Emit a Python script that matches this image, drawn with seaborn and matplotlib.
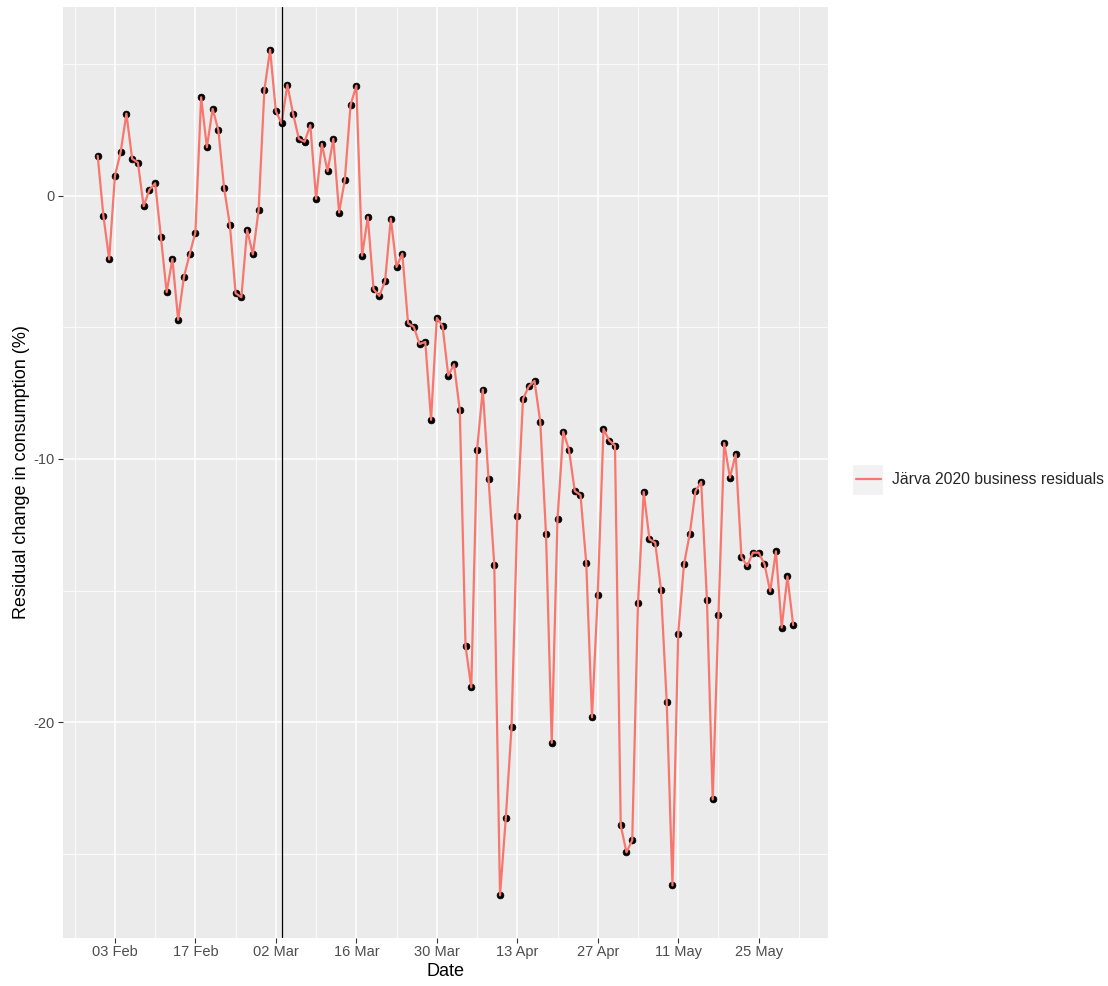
import matplotlib
matplotlib.use("Agg")
import matplotlib.pyplot as plt
import matplotlib.dates as mdates
from matplotlib.patches import Rectangle
import pandas as pd
import seaborn as sns

# daily residuals, 31 Jan - 31 May 2020
jan = [1.53]
feb = [-0.76, -2.41, 0.76, 1.67, 3.13, 1.41, 1.27, -0.39, 0.23, 0.48,
       -1.55, -3.66, -2.40, -4.71, -3.08, -2.22, -1.39, 3.75, 1.85, 3.31,
       2.50, 0.29, -1.10, -3.70, -3.85, -1.29, -2.22, -0.54, 4.02]
mar = [5.56, 3.22, 2.76, 4.23, 3.12, 2.17, 2.06, 2.69, -0.11, 1.98,
       0.94, 2.17, -0.63, 0.61, 3.46, 4.19, -2.27, -0.80, -3.55, -3.80,
       -3.24, -0.86, -2.70, -2.19, -4.84, -4.98, -5.63, -5.55, -8.51, -4.64,
       -4.94]
apr = [-6.83, -6.40, -8.15, -17.12, -18.68, -9.66, -7.36, -10.75, -14.02, -26.59,
       -23.66, -20.20, -12.18, -7.72, -7.24, -7.03, -8.59, -12.86, -20.79, -12.29,
       -8.96, -9.65, -11.22, -11.37, -13.95, -19.82, -15.16, -8.86, -9.30, -9.49]
may = [-23.93, -24.95, -24.49, -15.49, -11.25, -13.05, -13.18, -14.97, -19.23, -26.21,
       -16.64, -14.01, -12.86, -11.22, -10.87, -15.36, -22.94, -15.93, -9.39, -10.71,
       -9.82, -13.73, -14.07, -13.56, -13.56, -13.99, -15.03, -13.51, -16.41, -14.46,
       -16.31]

start_date = "2020-01-31"
event_date = "2020-03-03"
series_name = "Järva 2020 business residuals"
y_ticks = [0, -10, -20]
y_minor = [5, -5, -15, -25]

values = jan + feb + mar + apr + may
df = pd.DataFrame({
    "Date": pd.date_range(start_date, periods=len(values), freq="D"),
    "resid": values,
})
df["series"] = series_name

sns.set_theme(style="darkgrid")
plt.rcParams["font.family"] = ["Liberation Sans", "DejaVu Sans"]

fig, ax = plt.subplots(figsize=(11.08, 9.86), dpi=100)
fig.subplots_adjust(left=0.0565, right=0.7475, top=0.9925, bottom=0.049)
ax.set_facecolor("#EBEBEB")

sns.scatterplot(data=df, x="Date", y="resid", color="black", s=24,
                edgecolor="black", linewidth=0.5, ax=ax, legend=False, zorder=3)
sns.lineplot(data=df, x="Date", y="resid", hue="series", palette=["#F8766D"],
             linewidth=1.6, ax=ax, zorder=4)
ax.axvline(pd.Timestamp(event_date), color="black", linewidth=0.9, zorder=5)

# axis scales like ggplot (5% expansion)
pad = pd.Timedelta(days=len(values) * 0.05)
ax.set_xlim(df["Date"].min() - pad, df["Date"].max() + pad)
yr = max(values) - min(values)
ax.set_ylim(min(values) - 0.05 * yr, max(values) + 0.05 * yr)

ax.set_xticks(pd.date_range("2020-02-03", "2020-05-25", freq="14D"))
ax.set_xticks(pd.date_range("2020-01-27", "2020-06-01", freq="14D"), minor=True)
ax.xaxis.set_major_formatter(mdates.DateFormatter("%d %b"))
ax.set_yticks(y_ticks)
ax.set_yticks(y_minor, minor=True)
ax.set_yticklabels([str(v) for v in y_ticks])

ax.grid(which="major", color="white", linewidth=1.1)
ax.grid(which="minor", color="white", linewidth=0.55)
ax.tick_params(axis="both", which="major", length=3.5, width=0.8, color="#333333",
               labelsize=10.5, labelcolor="#4D4D4D", pad=2, bottom=True, left=True)
ax.tick_params(which="minor", length=0)
for s in ax.spines.values():
    s.set_visible(False)

ax.set_xlabel("Date", fontsize=13, color="black", labelpad=3)
ax.set_ylabel("Residual change in consumption (%)", fontsize=13, color="black", labelpad=3)

handles, labels = ax.get_legend_handles_labels()
ax.get_legend().remove()
# grey legend key box, ggplot style
fig.patches.append(Rectangle((853 / 1108, 1 - 495 / 986), 30 / 1108, 30 / 986,
                             transform=fig.transFigure, facecolor="#F2F2F2",
                             edgecolor="none", zorder=0))
leg = fig.legend(handles, labels, loc="center left", bbox_to_anchor=(0.7726, 0.5132),
                 frameon=False, fontsize=11.3, handlelength=1.6, handletextpad=0.7,
                 borderpad=0, borderaxespad=0)

fig.savefig("out.png", dpi=100)
